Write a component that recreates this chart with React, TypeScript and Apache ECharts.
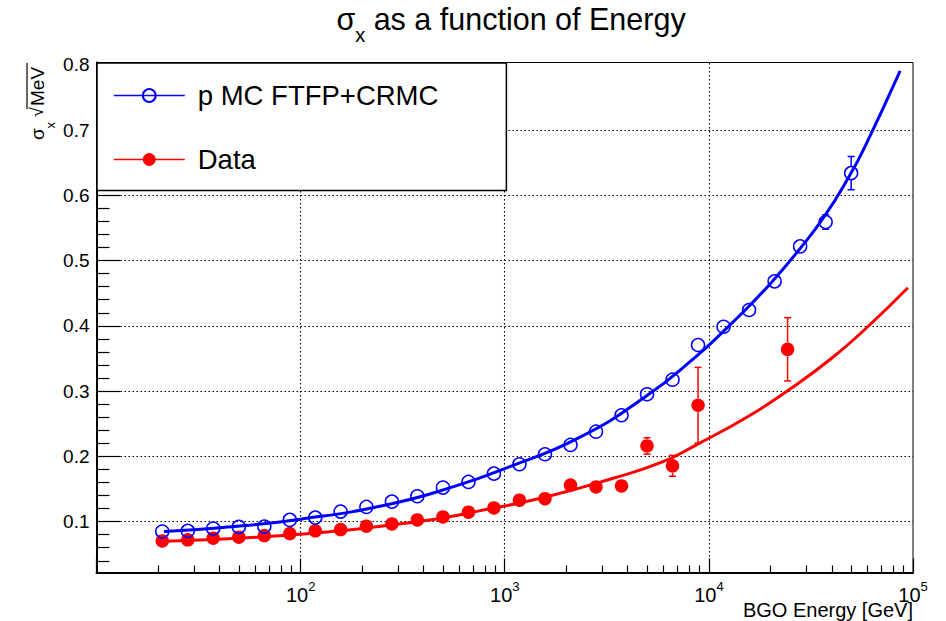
import React, { useEffect, useRef } from 'react';
import * as echarts from 'echarts';

const FONT = '"Liberation Sans", Arial, Helvetica, sans-serif';

// Bin centres (GeV)
const mcEnergies = [21.0, 28.0, 37.3, 49.8, 66.4, 88.5, 118, 157, 210, 280, 373, 498, 664, 885, 1180, 1574, 2099, 2799, 3733, 4977, 6637, 8851, 11803, 15740, 20989, 27990, 37325, 49774];
const mcValues = [0.0847, 0.0858, 0.0893, 0.0919, 0.0923, 0.1026, 0.1061, 0.1153, 0.1225, 0.1306, 0.1389, 0.1521, 0.1608, 0.1735, 0.1879, 0.2032, 0.2175, 0.2378, 0.2629, 0.2951, 0.3175, 0.3706, 0.3986, 0.4242, 0.4681, 0.5217, 0.5590, 0.6340];
const mcErrors = [0.001, 0.001, 0.001, 0.001, 0.001, 0.001, 0.001, 0.001, 0.001, 0.001, 0.001, 0.001, 0.002, 0.002, 0.002, 0.002, 0.002, 0.003, 0.003, 0.003, 0.004, 0.005, 0.006, 0.006, 0.007, 0.008, 0.011, 0.0255];

const dataEnergies = [21.0, 28.0, 37.3, 49.8, 66.4, 88.5, 118, 157, 210, 280, 373, 498, 664, 885, 1180, 1574, 2099, 2799, 3733, 4977, 6637, 8851, 24300];
const dataValues = [0.0704, 0.0720, 0.0746, 0.0761, 0.0786, 0.0816, 0.0858, 0.0877, 0.0930, 0.0965, 0.1026, 0.1072, 0.1144, 0.1210, 0.1328, 0.1352, 0.1560, 0.1531, 0.1547, 0.2159, 0.1855, 0.2783, 0.3640];
const dataErrors = [0.001, 0.001, 0.001, 0.001, 0.001, 0.001, 0.001, 0.001, 0.001, 0.001, 0.002, 0.002, 0.002, 0.002, 0.003, 0.003, 0.004, 0.004, 0.005, 0.0125, 0.016, 0.058, 0.0485];

// Fit curves
const mcFitEnergies = [21.4, 41.7, 100, 272, 577, 1052, 2312, 4920, 8730, 11610, 15710, 20710, 27540, 36650, 48860, 58340, 86500];
const mcFitValues = [0.0847, 0.0908, 0.1037, 0.1266, 0.1547, 0.1838, 0.2286, 0.292, 0.354, 0.3897, 0.4299, 0.470, 0.5158, 0.5669, 0.6299, 0.6755, 0.7908];
const dataFitEnergies = [20, 88.4, 396, 750, 1589, 3365, 5920, 8730, 15710, 24600, 40090, 60530, 94400];
const dataFitValues = [0.0694, 0.0796, 0.101, 0.1164, 0.1378, 0.166, 0.1914, 0.218, 0.2619, 0.3017, 0.3507, 0.3997, 0.4583];

// Axis ticks
const xMajorTicks = [10, 100, 1000, 10000, 100000];
const xMinorTicks = [20, 30, 40, 50, 60, 70, 80, 90, 200, 300, 400, 500, 600, 700, 800, 900, 2000, 3000, 4000, 5000, 6000, 7000, 8000, 9000, 20000, 30000, 40000, 50000, 60000, 70000, 80000, 90000];
const yMajorTicks = [0.1, 0.2, 0.3, 0.4, 0.5, 0.6, 0.7, 0.8];
const yMinorTicks = [0.04, 0.06, 0.08, 0.12, 0.14, 0.16, 0.18, 0.22, 0.24, 0.26, 0.28, 0.32, 0.34, 0.36, 0.38, 0.42, 0.44, 0.46, 0.48, 0.52, 0.54, 0.56, 0.58, 0.62, 0.64, 0.66, 0.68, 0.72, 0.74, 0.76, 0.78];
const xGridValues = [100, 1000, 10000];
const yGridValues = [0.1, 0.2, 0.3, 0.4, 0.5, 0.6, 0.7];

const X_MIN = 10;
const X_MAX = 100000;
const Y_MIN = 0.022;
const Y_MAX = 0.8035;

const BLUE = '#0000ff';
const RED = '#ff0000';
const MC_NAME = 'p MC FTFP+CRMC';
const DATA_NAME = 'Data';

const makeErrorRenderer = (color: string) => (params: any, api: any) => {
  const e = api.value(0);
  const c = api.coord([e, api.value(1)]);
  const t = api.coord([e, api.value(3)]);
  const b = api.coord([e, api.value(2)]);
  const r = 7;
  const cap = 3.5;
  const st = { stroke: color, lineWidth: 1.5 };
  const children: any[] = [];
  if (c[1] - t[1] > r - 1) {
    if (c[1] - t[1] > r) children.push({ type: 'line', shape: { x1: c[0], y1: c[1] - r, x2: t[0], y2: t[1] }, style: st });
    children.push({ type: 'line', shape: { x1: t[0] - cap, y1: t[1], x2: t[0] + cap, y2: t[1] }, style: st });
  }
  if (b[1] - c[1] > r - 1) {
    if (b[1] - c[1] > r) children.push({ type: 'line', shape: { x1: c[0], y1: c[1] + r, x2: b[0], y2: b[1] }, style: st });
    children.push({ type: 'line', shape: { x1: b[0] - cap, y1: b[1], x2: b[0] + cap, y2: b[1] }, style: st });
  }
  return { type: 'group', children };
};

export default function App() {
  const ref = useRef<HTMLDivElement>(null);

  useEffect(() => {
    if (!ref.current) return;
    const chart = echarts.init(ref.current, undefined, { renderer: 'svg' });

    const mcPoints = mcEnergies.map((e, i) => [e, mcValues[i]]);
    const dataPoints = dataEnergies.map((e, i) => [e, dataValues[i]]);
    const mcErr = mcEnergies.map((e, i) => [e, mcValues[i], mcValues[i] - mcErrors[i], mcValues[i] + mcErrors[i]]);
    const dataErr = dataEnergies.map((e, i) => [e, dataValues[i], dataValues[i] - dataErrors[i], dataValues[i] + dataErrors[i]]);
    const mcFit = mcFitEnergies.map((e, i) => [e, mcFitValues[i]]);
    const dataFit = dataFitEnergies.map((e, i) => [e, dataFitValues[i]]);

    const tickLine = { color: '#000', width: 1.2 };

    const option: any = {
      animation: false,
      backgroundColor: '#ffffff',
      textStyle: { fontFamily: FONT },
      title: {
        text: '{s|σ}{sub|x}{n| as a function of Energy}',
        left: 506,
        top: -2,
        textAlign: 'center',
        textStyle: {
          fontWeight: 'normal',
          rich: {
            s: { fontSize: 30.5, fontWeight: 'normal', fontFamily: FONT, color: '#000', lineHeight: 32 },
            sub: { fontSize: 20, fontWeight: 'normal', fontFamily: FONT, color: '#000', lineHeight: 14, verticalAlign: 'top', padding: [22, 0, 0, 0] },
            n: { fontSize: 30.5, fontWeight: 'normal', fontFamily: FONT, color: '#000', lineHeight: 32 },
          },
        },
      },
      legend: {
        data: [MC_NAME, DATA_NAME],
        orient: 'vertical',
        left: 97,
        top: 63,
        itemWidth: 71,
        itemHeight: 16,
        itemGap: 36,
        padding: [18.5, 68, 17, 16],
        backgroundColor: '#ffffff',
        borderColor: '#000',
        borderWidth: 1.5,
        borderRadius: 0,
        selectedMode: false,
        z: 20,
        textStyle: { fontSize: 27.5, color: '#000', fontFamily: FONT, padding: [0, 0, 0, 8] },
        lineStyle: { width: 1.5 },
      },
      grid: {
        left: 96.5,
        right: 33,
        top: 62.5,
        bottom: 48.5,
        containLabel: false,
        outerBoundsMode: 'none',
        show: true,
        borderColor: '#000',
        borderWidth: 1,
        backgroundColor: 'transparent',
      },
      xAxis: [
        {
          type: 'log',
          logBase: 10,
          min: X_MIN,
          max: X_MAX,
          position: 'bottom',
          axisLine: { show: true, onZero: false, lineStyle: { color: '#000', width: 2 } },
          axisTick: { show: true, inside: true, length: 14, lineStyle: tickLine, customValues: xMajorTicks },
          axisLabel: {
            show: true,
            margin: 7,
            customValues: xMajorTicks,
            formatter: (v: number) => {
              const p = Math.round(Math.log10(v));
              if (p <= 1) return '';
              return '{b|10}{s|' + p + '}';
            },
            rich: {
              b: { fontSize: 20, fontFamily: FONT, color: '#000', lineHeight: 30 },
              s: { fontSize: 13, fontFamily: FONT, color: '#000', lineHeight: 13, verticalAlign: 'top' },
            },
          },
          splitLine: { show: false },
          minorTick: { show: false },
        },
        {
          type: 'log',
          logBase: 10,
          min: X_MIN,
          max: X_MAX,
          position: 'bottom',
          axisLine: { show: false },
          axisTick: { show: true, inside: true, length: 7, lineStyle: tickLine, customValues: xMinorTicks },
          axisLabel: { show: false },
          splitLine: { show: false },
        },
      ],
      yAxis: [
        {
          type: 'value',
          min: Y_MIN,
          max: Y_MAX,
          position: 'left',
          axisLine: { show: true, onZero: false, lineStyle: { color: '#000', width: 2 } },
          axisTick: { show: true, inside: true, length: 24, lineStyle: tickLine, customValues: yMajorTicks },
          axisLabel: {
            show: true,
            margin: 7,
            customValues: yMajorTicks,
            fontSize: 19,
            fontFamily: FONT,
            color: '#000',
            formatter: (v: number) => (Math.round(v * 10) / 10).toFixed(1),
          },
          splitLine: { show: false },
        },
        {
          type: 'value',
          min: Y_MIN,
          max: Y_MAX,
          position: 'left',
          offset: 0,
          axisLine: { show: false },
          axisTick: { show: true, inside: true, length: 13, lineStyle: tickLine, customValues: yMinorTicks },
          axisLabel: { show: false },
          splitLine: { show: false },
        },
      ],
      series: [
        {
          name: 'gridlines',
          type: 'line',
          data: [],
          silent: true,
          markLine: {
            silent: true,
            symbol: ['none', 'none'],
            label: { show: false },
            animation: false,
            lineStyle: { color: '#000', width: 1.1, type: [1.5, 2.5] },
            emphasis: { disabled: true },
            data: [
              ...xGridValues.map((v) => ({ xAxis: v })),
              ...yGridValues.map((v) => ({ yAxis: v })),
            ],
          },
        },
        {
          name: 'dataFit',
          type: 'line',
          data: dataFit,
          smooth: 0.5,
          showSymbol: false,
          symbol: 'none',
          lineStyle: { color: RED, width: 3 },
          z: 10,
          silent: true,
        },
        {
          name: 'mcFit',
          type: 'line',
          data: mcFit,
          smooth: 0.5,
          showSymbol: false,
          symbol: 'none',
          lineStyle: { color: BLUE, width: 3 },
          z: 11,
          silent: true,
        },
        {
          name: DATA_NAME,
          type: 'line',
          data: dataPoints,
          symbol: 'circle',
          symbolSize: 13.5,
          showSymbol: true,
          itemStyle: { color: RED },
          lineStyle: { color: RED, width: 0 },
          z: 12,
          silent: true,
        },
        {
          name: MC_NAME,
          type: 'line',
          data: mcPoints,
          symbol: 'circle',
          symbolSize: 13,
          showSymbol: true,
          itemStyle: { color: 'rgba(0,0,0,0)', borderColor: BLUE, borderWidth: 1.5 },
          lineStyle: { color: BLUE, width: 0 },
          z: 13,
          silent: true,
        },
        {
          name: 'mcErr',
          type: 'custom',
          data: mcErr,
          encode: { x: 0, y: [1, 2, 3] },
          renderItem: makeErrorRenderer(BLUE),
          z: 14,
          silent: true,
        },
        {
          name: 'dataErr',
          type: 'custom',
          data: dataErr,
          encode: { x: 0, y: [1, 2, 3] },
          renderItem: makeErrorRenderer(RED),
          z: 14,
          silent: true,
        },
      ],
      graphic: [
        {
          type: 'group',
          x: 37.3,
          y: 140,
          rotation: Math.PI / 2,
          children: [
            { type: 'text', x: 0, y: 0, style: { text: 'σ', fontSize: 19, fontFamily: FONT, fill: '#000', verticalAlign: 'middle', align: 'left' } },
            { type: 'text', x: 11.5, y: 13, style: { text: 'x', fontSize: 13, fontFamily: FONT, fill: '#000', verticalAlign: 'middle', align: 'left' } },
            { type: 'text', x: 23, y: 0, style: { text: '√', fontSize: 18, fontFamily: FONT, fill: '#000', verticalAlign: 'middle', align: 'left' } },
            { type: 'text', x: 34, y: 0, style: { text: 'MeV', fontSize: 19, fontFamily: FONT, fill: '#000', verticalAlign: 'middle', align: 'left' } },
            { type: 'line', shape: { x1: 31, y1: -10.3, x2: 77, y2: -10.3 }, style: { stroke: '#000', lineWidth: 1.2 } },
          ],
        },
        {
          type: 'text',
          x: 913,
          y: 609.5,
          style: { text: 'BGO Energy [GeV]', fontSize: 20, fontFamily: FONT, fill: '#000', align: 'right', verticalAlign: 'middle' },
        },
      ],
    };

    chart.setOption(option);
    return () => {
      chart.dispose();
    };
  }, []);

  return <div ref={ref} style={{ position: 'fixed', left: 0, top: 0, width: 946, height: 621 }} />;
}
